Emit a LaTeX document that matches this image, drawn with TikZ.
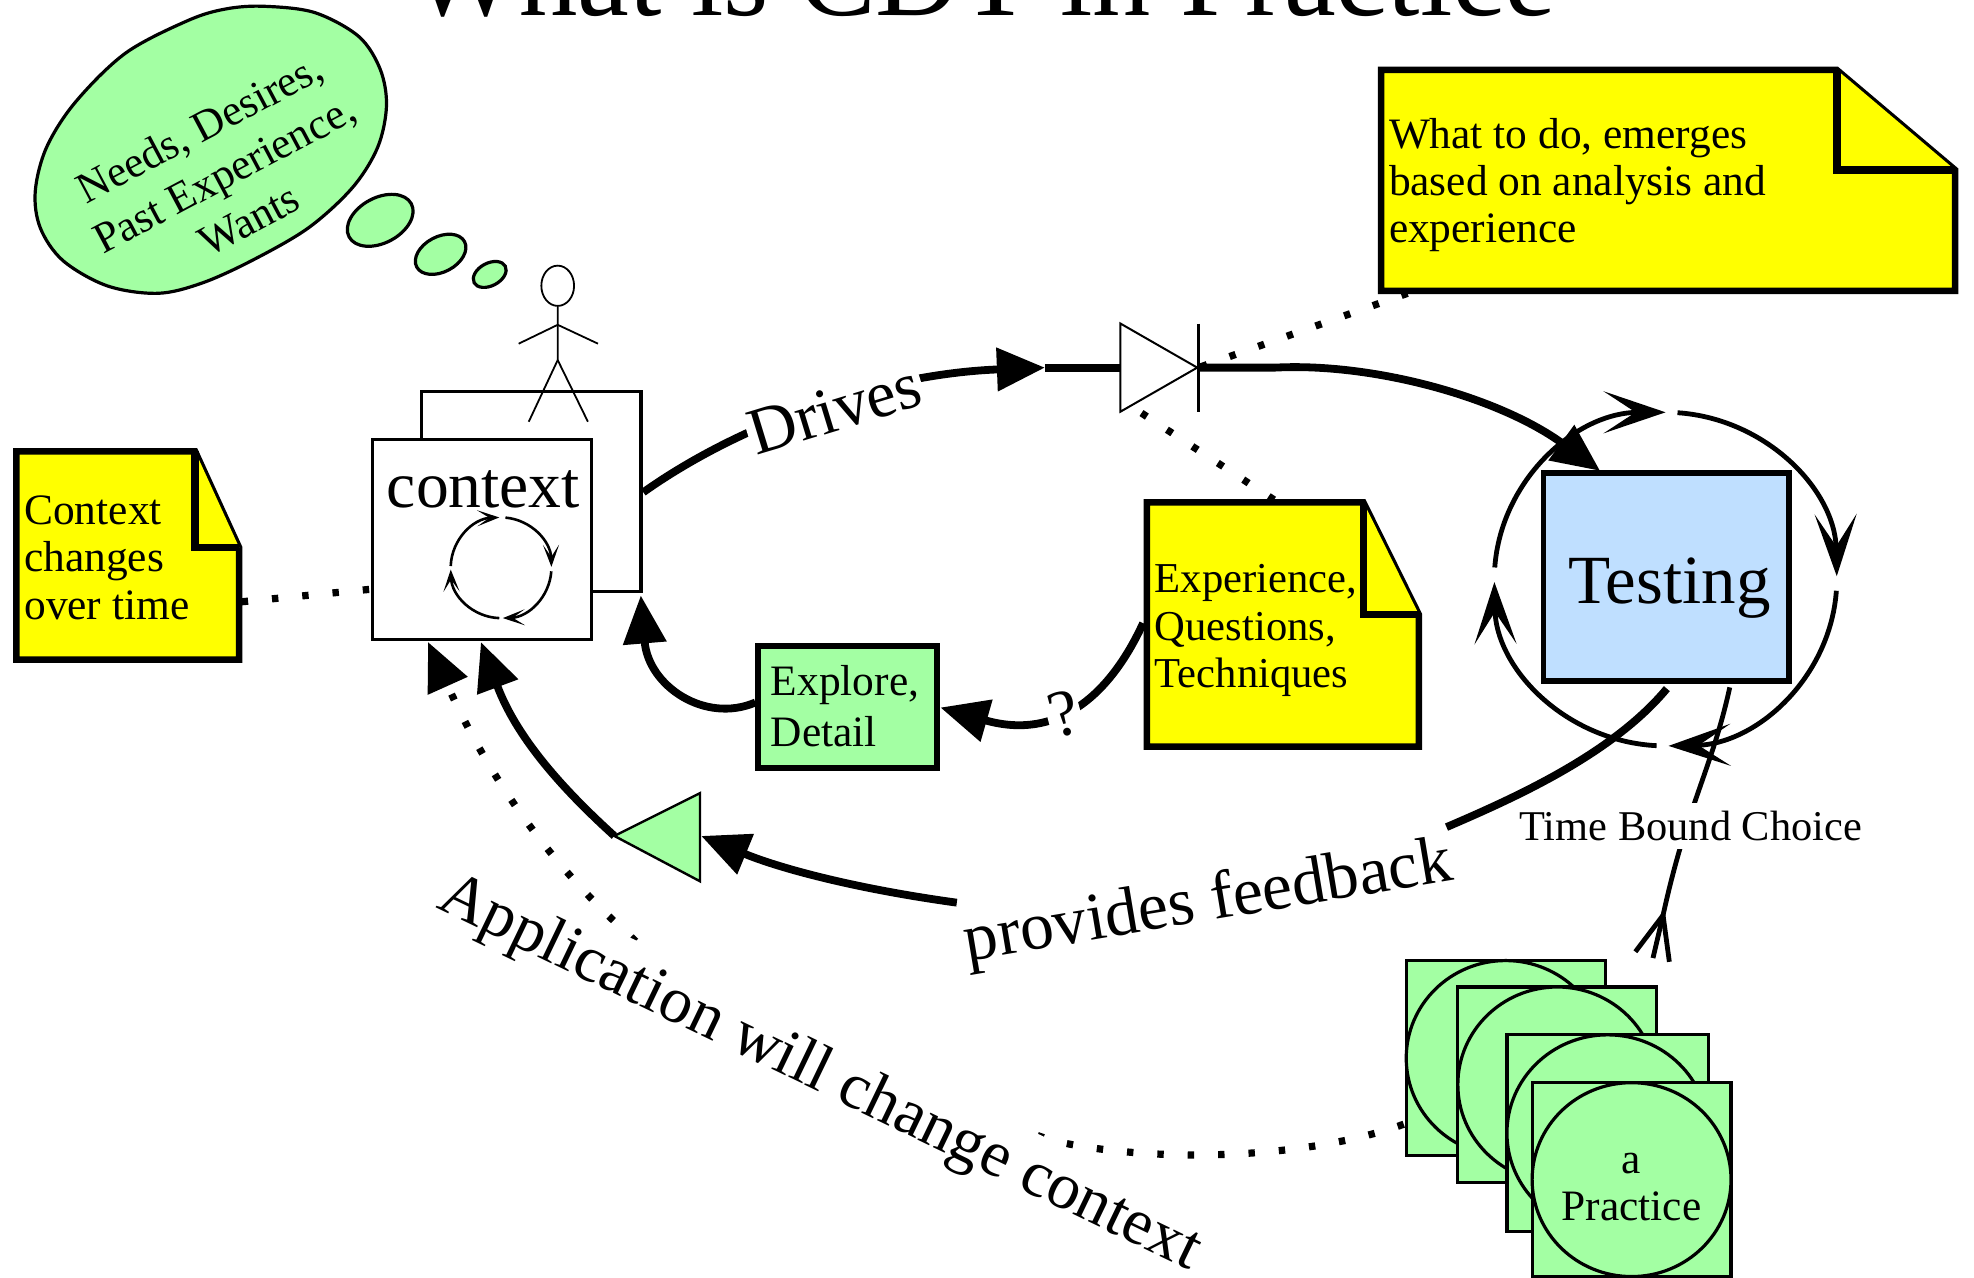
\documentclass[tikz,border=0pt]{standalone}
\usepackage{fontspec}
\setmainfont{Liberation Serif}
\usetikzlibrary{arrows.meta,shapes.geometric}
\def\U{0.62946pt}
\definecolor{pgreen}{HTML}{A3FFA3}
\definecolor{nyellow}{HTML}{FFFF00}
\definecolor{tblue}{HTML}{BFDFFF}
\newcommand\rn[7]{\node[#2,inner sep=0pt,outer sep=0pt,minimum width={(#5-#3)*\U},minimum height={(#6-#4)*\U}] (#1) at ({(#3+#5)/2},{(#4+#6)/2}) {#7};}
\newcommand\notebox[7]{%
  \draw[notepath] (#2,#3) -- (#6,#3) -- (#4,#7) -- (#4,#5) -- (#2,#5) -- cycle;
  \draw[notepath,line width=3.8pt] (#6,#3) -- (#6,#7) -- (#4,#7);
  \rn{#1}{}{#2}{#3}{#4}{#5}{}}
\newcommand\cyclearc[7]{\draw[#7] ({#1+#3*cos(#5)},{#2+#4*sin(#5)}) arc[start angle=#5,end angle=#6,x radius=#3,y radius=#4];}
\tikzset{
  x=\U,y=-\U,
  big/.style={font=\fontsize{33.2}{38}\selectfont},
  norm/.style={font=\fontsize{21.7}{23.7}\selectfont},
  notepath/.style={draw=black,fill=nyellow,line width=3.2pt,line join=miter},
  thin box/.style={draw=black,line width=1.7pt},
  stack box/.style={draw=black,fill=pgreen,line width=1.6pt},
  stack oval/.style={ellipse,draw=black,fill=pgreen,line width=1.6pt},
  bubble/.style={ellipse,draw=black,fill=pgreen,line width=1.6pt,inner sep=0pt},
  flow/.style={draw=black,line width=3.9pt},
  tipped/.style={flow,-{Triangle[length=24pt,width=21pt]}},
  dots/.style={draw=black,line width=3.6pt,dash pattern=on 3.2pt off 12pt},
  stick/.style={draw=black,line width=0.9pt},
  cyclebig/.style={draw=black,line width=2.4pt,-{Stealth[length=31pt,width=21pt,inset=16pt]}},
  cyclesmall/.style={draw=black,line width=1.3pt,-{Stealth[length=11pt,width=8pt,inset=6pt]}},
  gaplabel/.style={fill=white,inner sep=1pt},
}
\begin{document}
\begin{tikzpicture}
\useasboundingbox (0,0) rectangle (1568,1015);

% title
\node[anchor=base west,inner sep=0pt,font=\fontsize{58.3}{60}\selectfont] (title) at (325,12) {What is CDT in Practice};

% thought cloud
\draw[draw=black,fill=pgreen,line width=1.6pt] plot[smooth cycle,tension=0.55] coordinates {(210,5) (250,10) (285,29) (302,55) (307,84) (300,117) (280,149) (245,181) (200,207) (160,225) (125,233) (85,227) (50,207) (32,181) (28,152) (37,117) (60,81) (100,42) (150,16) (180,7)};
\node[norm,align=center,rotate=28,inner sep=0pt,font=\fontsize{21.7}{26}\selectfont] (thought) at (178,138) {Needs, Desires,\\Past Experience,\\Wants};
\node[bubble,rotate=28,minimum width={56*\U},minimum height={36*\U}] (bubA) at (302,175) {};
\node[bubble,rotate=28,minimum width={43*\U},minimum height={28*\U}] (bubB) at (350,202) {};
\node[bubble,rotate=28,minimum width={28*\U},minimum height={18*\U}] (bubC) at (389,218) {};

% context boxes
\rn{ctxback}{thin box,fill=white}{335}{311}{509}{470}{}
\rn{ctxfront}{thin box,fill=white}{296}{349}{470}{508}{}
\node[big,inner sep=0pt,font=\fontsize{32.8}{38}\selectfont] (ctxlabel) at (384,389) {context};
\cyclearc{398}{451}{40}{40}{-85}{-1}{cyclesmall}
\cyclearc{398}{451}{40}{40}{4}{88}{cyclesmall}
\cyclearc{398}{451}{40}{40}{92}{178}{cyclesmall}
\cyclearc{398}{451}{40}{40}{182}{268}{cyclesmall}

% actor
\node[ellipse,draw=black,line width=0.9pt,inner sep=0pt,minimum width={26*\U},minimum height={32*\U}] (head) at (443,227) {};
\coordinate (hip) at (443,286);
\coordinate (shoulder) at (443,258);
\coordinate (handL) at (412,273);
\coordinate (handR) at (475,273);
\coordinate (footL) at (420,335);
\coordinate (footR) at (467,335);
\draw[stick] (head.south) -- (hip) -- (footL);
\draw[stick] (hip) -- (footR);
\draw[stick] (handL) -- (shoulder) -- (handR);

% dotted links (behind notes)
\coordinate (cA1) at (1118,233);
\coordinate (cA2) at (952,292);
\coordinate (cC1) at (1012,397);
\coordinate (cC2) at (905,327);
\coordinate (cB1) at (192,478);
\coordinate (cB2) at (295,468);
\draw[dots] (cA1) -- (cA2);
\draw[dots] (cC1) -- (cC2);
\draw[dots] (cB1) -- (cB2);

% notes
\notebox{noteA}{1097}{55.5}{1553}{231}{1459}{135}
\node[norm,align=left,anchor=west,inner sep=0pt] (noteAtxt) at (1103,147) {What to do, emerges\\based on analysis and\\experience};
\notebox{noteB}{13}{358.5}{190}{524}{155}{435}
\node[norm,align=left,anchor=west,inner sep=0pt] (noteBtxt) at (19,443) {Context\\changes\\over time};
\notebox{noteC}{911}{399}{1127}{593}{1083}{488}
\node[norm,align=left,anchor=west,inner sep=0pt,font=\fontsize{21.3}{23.7}\selectfont] (noteCtxt) at (917,501) {Experience,\\Questions,\\Techniques};

% explore
\rn{explore}{draw=black,fill=pgreen,line width=2.9pt}{602}{513}{744}{610}{}
\node[norm,align=left,anchor=west,inner sep=0pt,font=\fontsize{21.7}{25.3}\selectfont] (exploretxt) at (612,561) {Explore,\\Detail};

% diode
\draw[draw=black,fill=white,line width=1pt] (890,257) -- (951,292) -- (890,327) -- cycle;
\coordinate (barT) at (952,257);
\coordinate (barB) at (952,327);
\draw[draw=black,line width=1.1pt] (barT) -- (barB);

% cycle around testing
\cyclearc{1323}{460}{136}{132.5}{-86}{-1}{cyclebig}
\cyclearc{1323}{460}{136}{132.5}{4}{89}{cyclebig}
\cyclearc{1323}{460}{136}{132.5}{93}{179}{cyclebig}
\cyclearc{1323}{460}{136}{132.5}{184}{270}{cyclebig}

% testing
\rn{testing}{draw=black,fill=tblue,line width=2.9pt}{1226}{376}{1421}{541}{}
\node[big,inner sep=0pt,font=\fontsize{34.5}{38}\selectfont] (testingtxt) at (1326,467) {Testing};

% triangle
\draw[draw=black,fill=pgreen,line width=1.2pt] (556,630) -- (488,664) -- (556,700) -- cycle;

% stack of practices
\rn{pr1}{stack box}{1117}{763}{1275}{918}{}
\rn{ov1}{stack oval}{1117}{763}{1275}{918}{}
\rn{pr2}{stack box}{1158}{784}{1316}{939}{}
\rn{ov2}{stack oval}{1158}{784}{1316}{939}{}
\rn{pr3}{stack box}{1197}{822}{1357}{978}{}
\rn{ov3}{stack oval}{1197}{822}{1357}{978}{}
\rn{pr4}{stack box}{1217}{860}{1375}{1014}{}
\rn{ov4}{stack oval}{1217}{860}{1375}{1014}{}
\node[norm,align=center,inner sep=0pt] (practice) at (1296,943) {a\\Practice};

% thick connectors
\coordinate (dA) at (511,391);
\coordinate (dB) at (830,292);
\coordinate (dC) at (890,292);
\coordinate (dD) at (952,292);
\coordinate (dE) at (1013,292);
\coordinate (dF) at (1271,374);
\draw[tipped] (dA) .. controls (590,335) and (700,297) .. (dB);
\draw[flow] (dB) -- (dC);
\draw[tipped] (dD) -- (dE) .. controls (1090,288) and (1190,315) .. (dF);
\node[big,gaplabel,rotate=17] (drives) at (663,325) {Drives};

\coordinate (eA) at (600,558);
\coordinate (eB) at (509,473);
\draw[tipped] (eA) .. controls (560,575) and (515,545) .. (eB);

\coordinate (qA) at (908,495);
\coordinate (qB) at (747,562);
\draw[tipped] (qA) .. controls (885,545) and (845,590) .. (qB);
\node[big,gaplabel,rotate=15] (qmark) at (845,567) {?};

\coordinate (fA) at (1324,547);
\coordinate (fB) at (1149,657);
\coordinate (fC) at (760,717);
\coordinate (fD) at (557,664);
\draw[flow] (fA) .. controls (1280,600) and (1200,635) .. (fB);
\draw[tipped] (fC) .. controls (680,706) and (620,690) .. (fD);
\node[inner sep=1pt,rotate=9.5,font=\fontsize{33.8}{38}\selectfont] (feedback) at (960,718) {provides feedback};

\coordinate (tA) at (488,664);
\coordinate (tB) at (382,510);
\draw[tipped] (tA) .. controls (445,625) and (410,585) .. (tB);

% application link
\coordinate (aA) at (1115,893);
\coordinate (aB) at (836,906);
\coordinate (aC) at (500,743);
\coordinate (aD) at (340,510);
\draw[dots,-{Triangle[length=24pt,width=21pt]}] (aA) .. controls (1040,920) and (920,925) .. (aB) .. controls (700,860) and (580,820) .. (aC) .. controls (430,680) and (385,610) .. (aD);
\node[gaplabel,inner xsep=1pt,inner ysep=6pt,anchor=base west,rotate=-25.7,font=\fontsize{32.7}{38}\selectfont] (application) at (344,720) {Application will change context};

% time bound choice
\coordinate (cbA) at (1374,546);
\coordinate (cbB) at (1321,727);
\coordinate (cfA) at (1299,756);
\coordinate (cfB) at (1313,761);
\coordinate (cfC) at (1326,764);
\draw[draw=black,line width=2.4pt] (cbA) .. controls (1360,610) and (1340,640) .. (cbB);
\draw[draw=black,line width=2.4pt] (cfA) -- (cbB) -- (cfC);
\draw[draw=black,line width=2.4pt] (cbB) -- (cfB);
\node[gaplabel,font=\fontsize{21.2}{23.7}\selectfont,minimum height={37*\U}] (choice) at (1343,656) {Time Bound Choice};
\end{tikzpicture}
\end{document}
